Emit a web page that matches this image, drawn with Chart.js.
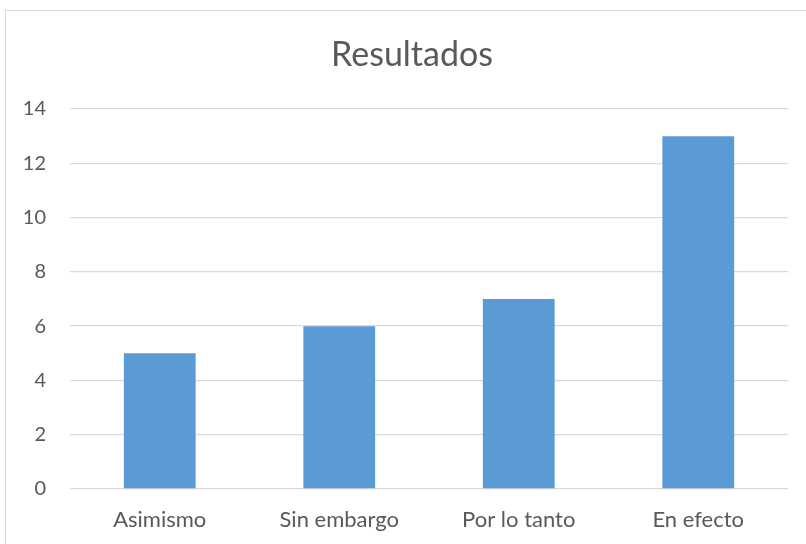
<!DOCTYPE html>
<html>
<head>
<meta charset="utf-8">
<script src="https://cdn.jsdelivr.net/npm/chart.js@4"></script>
<style>
  html, body { margin: 0; padding: 0; background: #fff; }
  #wrap { width: 806px; height: 544px; position: relative; }
</style>
</head>
<body>
<div id="wrap"><canvas id="chart" width="806" height="544"></canvas></div>
<script>
// データ
const categories = ["Asimismo", "Sin embargo", "Por lo tanto", "En efecto"];
const valores = [5, 6, 7, 13];
const yTicks = [0, 2, 4, 6, 8, 10, 12, 14];
const titulo = "Resultados";

const FONT = "Lato, 'Open Sans', sans-serif";
const TEXT = "#595959";

// 外枠とタイトル（Excel風、タイトルは枠の中央）
const frame = {
  id: "frame",
  beforeDraw(c) {
    const ctx = c.ctx;
    ctx.save();
    ctx.fillStyle = "#fff";
    ctx.fillRect(0, 0, c.width, c.height);
    ctx.strokeStyle = "#d9d9d9";
    ctx.lineWidth = 1;
    ctx.strokeRect(5.5, 10.5, 820, 600);
    ctx.fillStyle = TEXT;
    ctx.font = "34px " + FONT;
    ctx.textAlign = "center";
    ctx.textBaseline = "middle";
    ctx.fillText(titulo, 412, 55);
    ctx.restore();
  }
};

new Chart(document.getElementById("chart"), {
  type: "bar",
  data: {
    labels: categories,
    datasets: [{
      data: valores,
      backgroundColor: "#5b9bd5",
      borderWidth: 0,
      categoryPercentage: 0.8,
      barPercentage: 0.5
    }]
  },
  options: {
    responsive: false,
    animation: false,
    layout: { padding: { left: 0, right: 18, top: 109, bottom: 0 } },
    plugins: {
      legend: { display: false },
      tooltip: { enabled: false },
      title: { display: false }
    },
    scales: {
      x: {
        grid: { display: false, drawTicks: false },
        border: { display: false },
        ticks: { color: TEXT, font: { family: FONT, size: 22 }, padding: 18 },
        afterFit(s) { s.height = 55; }
      },
      y: {
        min: 0, max: 14,
        afterBuildTicks(s) { s.ticks = yTicks.map(v => ({ value: v })); },
        grid: { color: "#d9d9d9", lineWidth: 1.3, drawTicks: false },
        border: { display: false },
        ticks: { color: TEXT, font: { family: FONT, size: 20 }, padding: 24 },
        afterFit(s) { s.width = 70; }
      }
    }
  },
  plugins: [frame]
});
</script>
</body>
</html>
